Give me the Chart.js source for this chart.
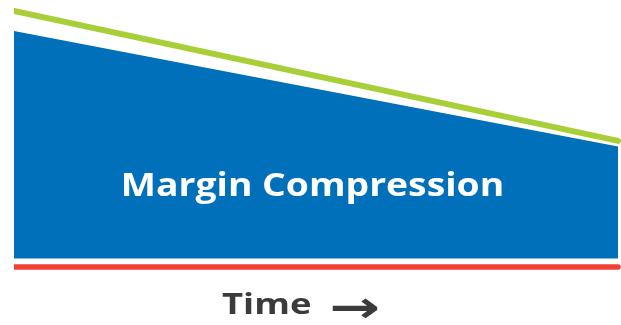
<!DOCTYPE html>
<html>
<head>
<meta charset="utf-8">
<script src="https://cdn.jsdelivr.net/npm/chart.js@4"></script>
<style>
  html, body { margin: 0; padding: 0; background: #fff; }
  #wrap { position: relative; width: 621px; height: 325px; }
  .label { position: absolute; font-family: "Open Sans", sans-serif; font-weight: 700; white-space: nowrap; line-height: 1; }
  #areaLabel { left: 0; width: 625px; text-align: center; top: 167px; font-size: 33px; color: #fff;
               transform: scaleX(1.13); transform-origin: center center; }
  #axisLabel { left: 222px; top: 289px; font-size: 28px; color: #3b3b3b;
               transform: scaleX(1.3); transform-origin: left center; }
  #axisArrow { left: 329px; top: 285px; font-family: "DejaVu Sans", sans-serif; font-size: 44px; color: #3b3b3b;
               transform: scaleX(1.38); transform-origin: left center; }
</style>
</head>
<body>
<div id="wrap">
  <canvas id="chart" width="621" height="325"></canvas>
  <div class="label" id="areaLabel">Margin Compression</div>
  <div class="label" id="axisLabel">Time</div>
  <div class="label" id="axisArrow">→</div>
</div>
<script>
// time runs from start (0) to end (1)
const timePoints = [0, 1];
const priceLine = [98.5, 48.5];     // green
const marginTop = [90.8, 46.3];     // top of blue band
const marginBottom = [3.3, 3.3];    // bottom of blue band
const costLine = [0, 0];            // red

function toPoints(values) {
    return timePoints.map((t, i) => ({ x: t, y: values[i] }));
}

const ctx = document.getElementById('chart').getContext('2d');

new Chart(ctx, {
    type: 'line',
    data: {
        datasets: [
            {
                label: 'Price',
                data: toPoints(priceLine),
                borderColor: '#a9cf38',
                borderWidth: 6,
                borderCapStyle: 'round',
                pointRadius: 0,
                fill: false,
                clip: { left: 0, right: 6, top: 6, bottom: 6 }
            },
            {
                label: 'Margin',
                data: toPoints(marginTop),
                borderWidth: 0,
                borderColor: 'rgba(0,0,0,0)',
                backgroundColor: '#0070ba',
                pointRadius: 0,
                fill: { target: 2 }
            },
            {
                label: 'Margin floor',
                data: toPoints(marginBottom),
                borderWidth: 0,
                borderColor: 'rgba(0,0,0,0)',
                pointRadius: 0,
                fill: false
            },
            {
                label: 'Cost',
                data: toPoints(costLine),
                borderColor: '#ef4136',
                borderWidth: 5.5,
                borderCapStyle: 'round',
                pointRadius: 0,
                fill: false,
                clip: { left: 0, right: 6, top: 6, bottom: 6 }
            }
        ]
    },
    options: {
        responsive: false,
        animation: false,
        layout: { padding: { left: 14, right: 3, top: 7, bottom: 58 } },
        plugins: {
            legend: { display: false },
            tooltip: { enabled: false }
        },
        scales: {
            x: { type: 'linear', min: 0, max: 1, display: false },
            y: { min: 0, max: 100, display: false }
        }
    }
});
</script>
</body>
</html>
